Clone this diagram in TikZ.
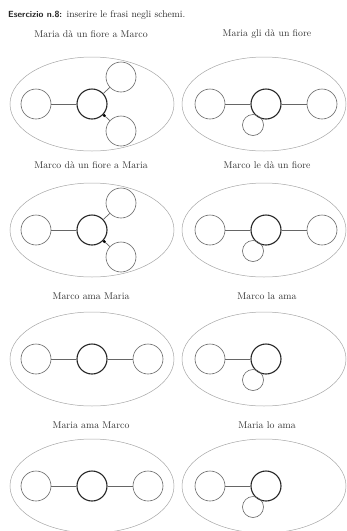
\documentclass[tikz,border=0pt]{standalone}
\usetikzlibrary{shapes.geometric}
\begin{document}
\begin{tikzpicture}[x=1pt,y=-1pt,
  frame/.style={draw=black!35,line width=0.5pt,ellipse,minimum width=164pt,minimum height=94pt,inner sep=0pt},
  role/.style={draw=black!60,line width=0.6pt,circle,minimum size=30pt,inner sep=0pt},
  verb/.style={draw=black!85,line width=1.1pt,circle,minimum size=30pt,inner sep=0pt},
  clit/.style={draw=black!60,line width=0.6pt,circle,minimum size=21pt,inner sep=0pt},
  link/.style={draw=black!60,line width=0.7pt},
  dotmark/.style={fill=black,circle,minimum size=3.2pt,inner sep=0pt},
  title/.style={text=black!80,font=\fontsize{9.8}{11}\selectfont,inner sep=0pt}]
\useasboundingbox (0,0) rectangle (347,531);

\node[anchor=west,inner sep=0pt,text=black!85] (hd) at (8,15)
  {{\sffamily\bfseries\fontsize{8.9}{10}\selectfont Esercizio n.8:} {\fontsize{9.6}{10}\selectfont inserire le frasi negli schemi.}};

% ---------- Row 1 ----------
\node[title] (t1) at (91,34) {Maria dà un fiore a Marco};
\node[title] (t2) at (267,34) {Maria gli dà un fiore};
\node[frame] (e1) at (92,104) {};
\node[frame] (e2) at (264,104) {};
\node[role] (a1) at (36,104) {};
\node[verb] (v1) at (92,104) {};
\node[role] (u1) at (121,77) {};
\node[role] (d1) at (121,131) {};
\draw[link] (a1) -- (v1);
\draw[link] (v1) -- (u1);
\draw[link] (v1) -- node[pos=0.15,dotmark]{} (d1);
\node[role] (a2) at (210,104) {};
\node[verb] (v2) at (266,104) {};
\node[role] (b2) at (322,104) {};
\node[clit] (k2) at (253,125) {};
\draw[link] (a2) -- (v2);
\draw[link] (v2) -- (b2);

% ---------- Row 2 ----------
\node[title] (t3) at (91,165) {Marco dà un fiore a Maria};
\node[title] (t4) at (267,165) {Marco le dà un fiore};
\node[frame] (e3) at (92,230) {};
\node[frame] (e4) at (264,230) {};
\node[role] (a3) at (36,230) {};
\node[verb] (v3) at (92,230) {};
\node[role] (u3) at (121,203) {};
\node[role] (d3) at (121,257) {};
\draw[link] (a3) -- (v3);
\draw[link] (v3) -- (u3);
\draw[link] (v3) -- node[pos=0.15,dotmark]{} (d3);
\node[role] (a4) at (210,230) {};
\node[verb] (v4) at (266,230) {};
\node[role] (b4) at (322,230) {};
\node[clit] (k4) at (253,251) {};
\draw[link] (a4) -- (v4);
\draw[link] (v4) -- (b4);

% ---------- Row 3 ----------
\node[title] (t5) at (91,296) {Marco ama Maria};
\node[title] (t6) at (267,296) {Marco la ama};
\node[frame] (e5) at (92,359) {};
\node[frame] (e6) at (264,359) {};
\node[role] (a5) at (36,359) {};
\node[verb] (v5) at (92,359) {};
\node[role] (b5) at (148,359) {};
\draw[link] (a5) -- (v5);
\draw[link] (v5) -- (b5);
\node[role] (a6) at (210,359) {};
\node[verb] (v6) at (266,359) {};
\node[clit] (k6) at (253,380) {};
\draw[link] (a6) -- (v6);

% ---------- Row 4 ----------
\node[title] (t7) at (91,425) {Maria ama Marco};
\node[title] (t8) at (267,425) {Maria lo ama};
\node[frame] (e7) at (92,486) {};
\node[frame] (e8) at (264,486) {};
\node[role] (a7) at (36,486) {};
\node[verb] (v7) at (92,486) {};
\node[role] (b7) at (148,486) {};
\draw[link] (a7) -- (v7);
\draw[link] (v7) -- (b7);
\node[role] (a8) at (210,486) {};
\node[verb] (v8) at (266,486) {};
\node[clit] (k8) at (253,507) {};
\draw[link] (a8) -- (v8);
\end{tikzpicture}
\end{document}
